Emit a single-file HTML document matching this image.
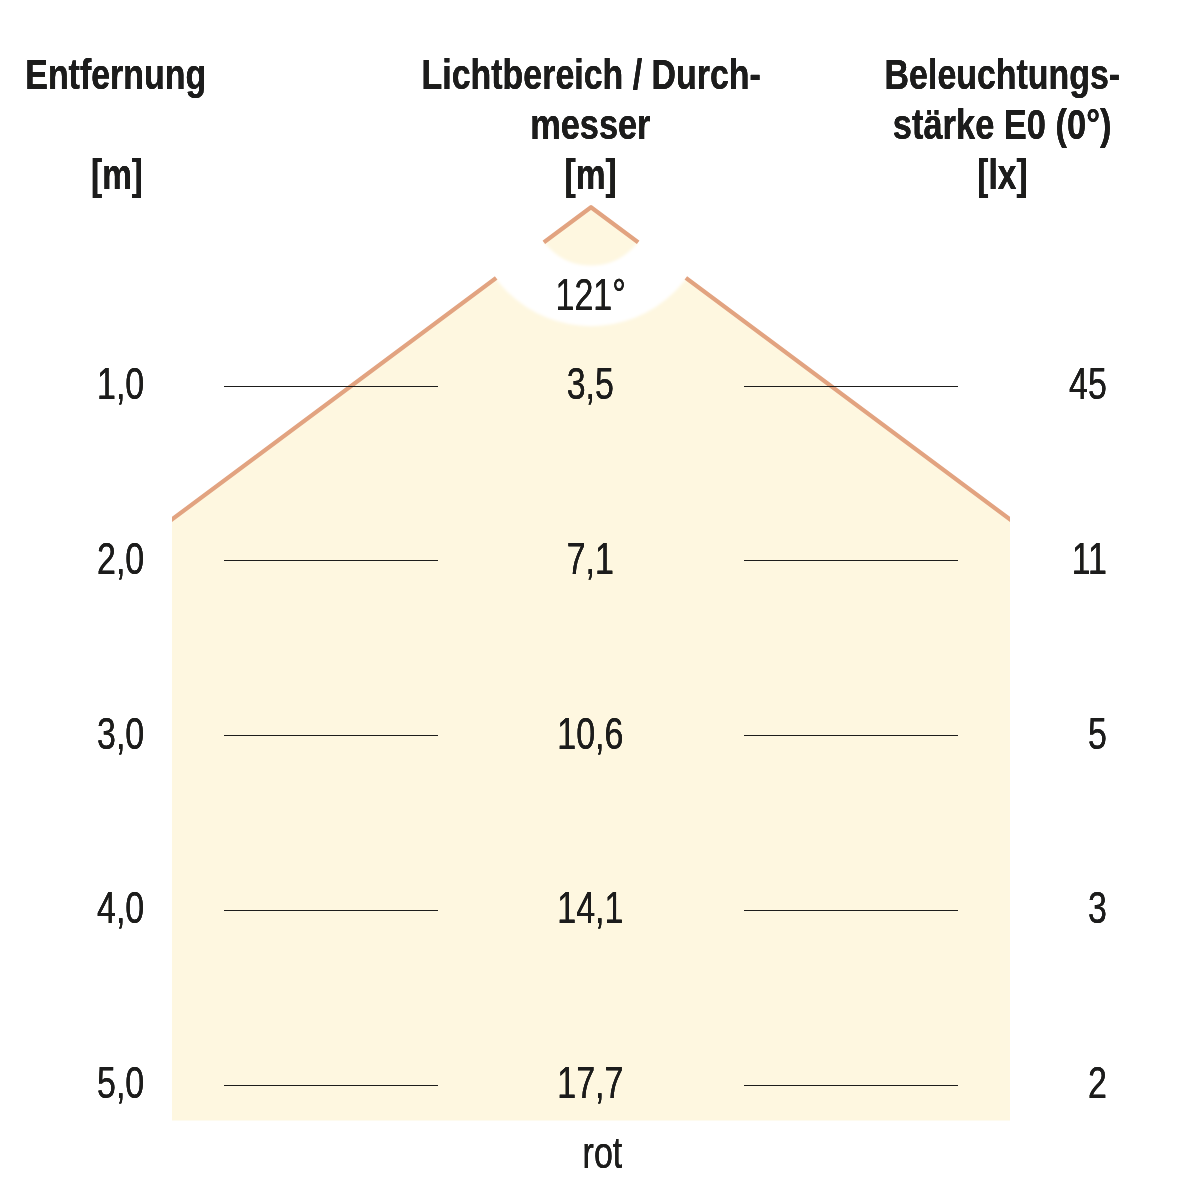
<!DOCTYPE html>
<html lang="de"><head><meta charset="utf-8"><title>Lichtbereich / Durchmesser</title>
<style>
html,body{margin:0;padding:0;background:#fff;}
body{width:1182px;height:1182px;overflow:hidden;}
svg{display:block;font-family:"Liberation Sans",sans-serif;fill:#1d1d1b;}
</style></head><body>
<svg width="1182" height="1182" viewBox="0 0 1182 1182">
<defs>
<filter id="soft" filterUnits="userSpaceOnUse" x="400" y="150" width="400" height="250"><feGaussianBlur stdDeviation="1.8"/></filter>
<filter id="fb" filterUnits="userSpaceOnUse" x="-300" y="-60" width="600" height="90"><feOffset in="SourceGraphic" dx="0.55" result="a"/><feOffset in="SourceGraphic" dx="-0.55" result="b"/><feMerge><feMergeNode in="a"/><feMergeNode in="b"/><feMergeNode in="SourceGraphic"/></feMerge></filter>
<filter id="fr" filterUnits="userSpaceOnUse" x="-300" y="-60" width="600" height="90"><feOffset in="SourceGraphic" dx="0.3" result="a"/><feOffset in="SourceGraphic" dx="-0.3" result="b"/><feMerge><feMergeNode in="a"/><feMergeNode in="b"/><feMergeNode in="SourceGraphic"/></feMerge></filter>
<mask id="ring" maskUnits="userSpaceOnUse" x="0" y="0" width="1182" height="1182">
<rect x="0" y="0" width="1182" height="1182" fill="#fff"/>
<circle cx="591" cy="207.2" r="88.6" fill="none" stroke="#000" stroke-width="59.6"/>
</mask>
<clipPath id="box"><rect x="172" y="190" width="838" height="930.6"/></clipPath>
<clipPath id="poly"><polygon points="591,204.2 1011,516.4 1011,1120.6 171,1120.6 171,516.4"/></clipPath>
</defs>
<rect width="1182" height="1182" fill="#fff"/>
<polygon points="591,207.2 1010,519.4 1010,1120.6 172,1120.6 172,519.4" fill="#FEF7E0"/>
<g clip-path="url(#poly)"><circle cx="591" cy="207.2" r="88.7" fill="none" stroke="#fff" stroke-width="60.6" filter="url(#soft)"/></g>
<g clip-path="url(#box)"><g mask="url(#ring)">
<polyline points="152,534.30 591,207.2 1030,534.30" fill="none" stroke="#E2A380" stroke-width="4.2" stroke-linejoin="round"/>
</g></g>

<g stroke="#1d1d1b" stroke-width="1">
<line x1="224" y1="386.5" x2="438" y2="386.5"/><line x1="744" y1="386.5" x2="958" y2="386.5"/>
<line x1="224" y1="560.5" x2="438" y2="560.5"/><line x1="744" y1="560.5" x2="958" y2="560.5"/>
<line x1="224" y1="735.5" x2="438" y2="735.5"/><line x1="744" y1="735.5" x2="958" y2="735.5"/>
<line x1="224" y1="910.5" x2="438" y2="910.5"/><line x1="744" y1="910.5" x2="958" y2="910.5"/>
<line x1="224" y1="1085.5" x2="438" y2="1085.5"/><line x1="744" y1="1085.5" x2="958" y2="1085.5"/>
</g>
<text transform="translate(115.70 88.90) scale(0.7890 1)" text-anchor="middle" font-size="43" font-weight="700" filter="url(#fb)">Entfernung</text>
<text transform="translate(117.00 188.80) scale(0.7750 1)" text-anchor="middle" font-size="43" font-weight="700" filter="url(#fb)">[m]</text>
<text transform="translate(591.20 88.90) scale(0.7890 1)" text-anchor="middle" font-size="43" font-weight="700" filter="url(#fb)">Lichtbereich / Durch-</text>
<text transform="translate(590.30 138.80) scale(0.7990 1)" text-anchor="middle" font-size="43" font-weight="700" filter="url(#fb)">messer</text>
<text transform="translate(590.60 188.80) scale(0.7800 1)" text-anchor="middle" font-size="43" font-weight="700" filter="url(#fb)">[m]</text>
<text transform="translate(1002.40 88.80) scale(0.7890 1)" text-anchor="middle" font-size="43" font-weight="700" filter="url(#fb)">Beleuchtungs-</text>
<text transform="translate(1002.10 138.80) scale(0.8010 1)" text-anchor="middle" font-size="43" font-weight="700" filter="url(#fb)">stärke E0 (0°)</text>
<text transform="translate(1002.50 188.80) scale(0.7800 1)" text-anchor="middle" font-size="43" font-weight="700" filter="url(#fb)">[lx]</text>
<text transform="translate(590.70 309.80) scale(0.7810 1)" text-anchor="middle" font-size="43.5" filter="url(#fr)">121°</text>
<text transform="translate(602.40 1167.60) scale(0.7810 1)" text-anchor="middle" font-size="43.5" filter="url(#fr)">rot</text>
<text transform="translate(120.60 399.30) scale(0.7810 1)" text-anchor="middle" font-size="43.5" filter="url(#fr)">1,0</text>
<text transform="translate(590.30 399.30) scale(0.7810 1)" text-anchor="middle" font-size="43.5" filter="url(#fr)">3,5</text>
<text transform="translate(1106.90 399.30) scale(0.7810 1)" text-anchor="end" font-size="43.5" filter="url(#fr)">45</text>
<text transform="translate(120.60 573.90) scale(0.7810 1)" text-anchor="middle" font-size="43.5" filter="url(#fr)">2,0</text>
<text transform="translate(590.30 573.90) scale(0.7810 1)" text-anchor="middle" font-size="43.5" filter="url(#fr)">7,1</text>
<text transform="translate(1106.90 573.90) scale(0.7810 1)" text-anchor="end" font-size="43.5" filter="url(#fr)">11</text>
<text transform="translate(120.60 748.70) scale(0.7810 1)" text-anchor="middle" font-size="43.5" filter="url(#fr)">3,0</text>
<text transform="translate(590.30 748.70) scale(0.7810 1)" text-anchor="middle" font-size="43.5" filter="url(#fr)">10,6</text>
<text transform="translate(1106.90 748.70) scale(0.7810 1)" text-anchor="end" font-size="43.5" filter="url(#fr)">5</text>
<text transform="translate(120.60 923.30) scale(0.7810 1)" text-anchor="middle" font-size="43.5" filter="url(#fr)">4,0</text>
<text transform="translate(590.30 923.30) scale(0.7810 1)" text-anchor="middle" font-size="43.5" filter="url(#fr)">14,1</text>
<text transform="translate(1106.90 923.30) scale(0.7810 1)" text-anchor="end" font-size="43.5" filter="url(#fr)">3</text>
<text transform="translate(120.60 1098.10) scale(0.7810 1)" text-anchor="middle" font-size="43.5" filter="url(#fr)">5,0</text>
<text transform="translate(590.30 1098.10) scale(0.7810 1)" text-anchor="middle" font-size="43.5" filter="url(#fr)">17,7</text>
<text transform="translate(1106.90 1098.10) scale(0.7810 1)" text-anchor="end" font-size="43.5" filter="url(#fr)">2</text>
</svg></body></html>
